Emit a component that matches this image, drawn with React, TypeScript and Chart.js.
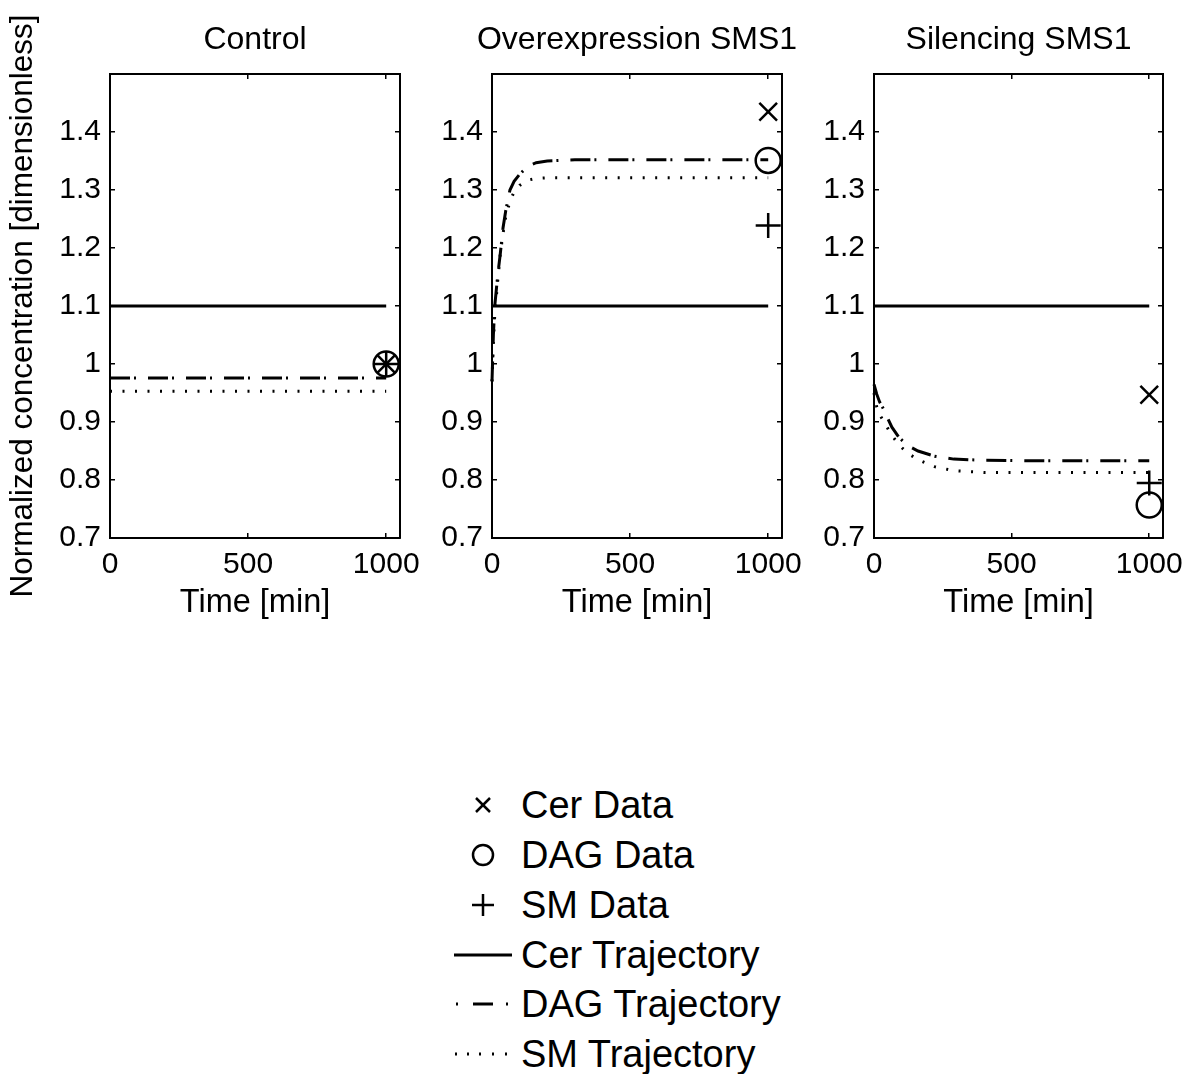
import React, { useEffect, useRef } from 'react';
import { Chart, registerables } from 'chart.js';

Chart.register(...registerables);

// ---------- data ----------
const panelTitles = ['Control', 'Overexpression SMS1', 'Silencing SMS1'];
const xTicks = [0, 500, 1000];
const yTicks = [0.7, 0.8, 0.9, 1.0, 1.1, 1.2, 1.3, 1.4];
const xAxisTitle = 'Time [min]';
const yAxisTitle = 'Normalized concentration [dimensionless]';

// Control
const controlTime = [0, 1000];
const controlCer = [1.1, 1.1];
const controlDag = [0.976, 0.976];
const controlSm = [0.953, 0.953];

// Overexpression SMS1
const overTime = [0, 5, 10, 20, 30, 40, 50, 65, 80, 100, 130, 160, 200, 300, 500, 700, 1000];
const overCer = [1.1, 1.1, 1.1, 1.1, 1.1, 1.1, 1.1, 1.1, 1.1, 1.1, 1.1, 1.1, 1.1, 1.1, 1.1, 1.1, 1.1];
const overDag = [0.97, 1.05, 1.1, 1.15, 1.19, 1.235, 1.265, 1.3, 1.315, 1.327, 1.341, 1.347, 1.35, 1.352, 1.352, 1.352, 1.352];
const overSm = [0.97, 1.04, 1.085, 1.14, 1.19, 1.225, 1.255, 1.28, 1.297, 1.308, 1.317, 1.32, 1.321, 1.321, 1.321, 1.321, 1.321];

// Silencing SMS1
const silTime = [0, 10, 20, 35, 50, 65, 90, 120, 160, 220, 290, 400, 600, 800, 1000];
const silCer = [1.1, 1.1, 1.1, 1.1, 1.1, 1.1, 1.1, 1.1, 1.1, 1.1, 1.1, 1.1, 1.1, 1.1, 1.1];
const silDag = [0.965, 0.948, 0.935, 0.922, 0.906, 0.891, 0.874, 0.86, 0.85, 0.841, 0.836, 0.834, 0.833, 0.833, 0.833];
const silSm = [0.95, 0.926, 0.913, 0.901, 0.889, 0.877, 0.861, 0.847, 0.835, 0.823, 0.816, 0.813, 0.813, 0.813, 0.813];

// Measured data (at t = 1000 min), one value per panel
const dataTime = 1000;
const cerData = [1.0, 1.435, 0.947];
const dagData = [1.0, 1.351, 0.757];
const smData = [1.0, 1.239, 0.795];

const legendLabels = ['Cer Data', 'DAG Data', 'SM Data', 'Cer Trajectory', 'DAG Trajectory', 'SM Trajectory'];

const panelTimes = [controlTime, overTime, silTime];
const panelCer = [controlCer, overCer, silCer];
const panelDag = [controlDag, overDag, silDag];
const panelSm = [controlSm, overSm, silSm];

// ---------- layout / style ----------
const FONT = '"Liberation Sans", Arial, Helvetica, sans-serif';
const BLACK = '#000000';
const PLOT_LEFTS = [110, 492, 874];
const PLOT_WIDTHS = [290, 290, 289];
const PLOT_BOTTOM = 538;
const AXIS_W = 110;
const CANVAS_H = 640;
const LINE_W = 3;
const DAG_DASH = [20, 4, 2, 12];
const SM_DASH = [2, 10.5];

Chart.defaults.font.family = FONT;
Chart.defaults.color = BLACK;

function pts(xs: number[], ys: number[]) {
  return xs.map((x, i) => ({ x, y: ys[i] }));
}

function Panel({ idx }: { idx: number }) {
  const ref = useRef<HTMLCanvasElement | null>(null);
  const width = AXIS_W + PLOT_WIDTHS[idx] + AXIS_W;
  const left = PLOT_LEFTS[idx] - AXIS_W;

  useEffect(() => {
    if (!ref.current) return;
    const grid = {
      drawOnChartArea: false,
      drawTicks: true,
      tickLength: -5,
      color: BLACK,
      lineWidth: 1.5,
    };
    const border = { display: true, color: BLACK, width: 2 };
    const setXTicks = (s: any) => {
      s.ticks = xTicks.map((v) => ({ value: v }));
    };
    const setYTicks = (s: any) => {
      s.ticks = yTicks.map((v) => ({ value: v }));
    };
    const lineDs = (label: string, ys: number[], dash: number[]) => ({
      label,
      data: pts(panelTimes[idx], ys),
      showLine: true,
      borderColor: BLACK,
      backgroundColor: BLACK,
      borderWidth: LINE_W,
      borderDash: dash,
      pointRadius: 0,
      pointHoverRadius: 0,
      fill: false,
      tension: 0,
      clip: false,
    });
    const markDs = (label: string, y: number, style: string) => ({
      label,
      data: [{ x: dataTime, y }],
      showLine: false,
      pointStyle: style,
      pointRadius: 12.5,
      pointHoverRadius: 12.5,
      pointBorderWidth: 2.5,
      pointBorderColor: BLACK,
      pointBackgroundColor: 'rgba(0,0,0,0)',
      borderColor: BLACK,
      backgroundColor: 'rgba(0,0,0,0)',
      clip: false,
    });

    const chart = new Chart(ref.current, {
      type: 'scatter',
      data: {
        datasets: [
          lineDs('Cer Trajectory', panelCer[idx], []),
          lineDs('DAG Trajectory', panelDag[idx], DAG_DASH),
          lineDs('SM Trajectory', panelSm[idx], SM_DASH),
          markDs('Cer Data', cerData[idx], 'crossRot'),
          markDs('DAG Data', dagData[idx], 'circle'),
          markDs('SM Data', smData[idx], 'cross'),
        ] as any,
      },
      options: {
        animation: false,
        responsive: false,
        devicePixelRatio: 1,
        events: [],
        layout: { padding: 0 },
        plugins: {
          legend: { display: false },
          tooltip: { enabled: false },
          title: {
            display: true,
            text: panelTitles[idx],
            fullSize: true,
            color: BLACK,
            font: { size: 32, weight: 'normal', family: FONT },
            padding: { top: 21, bottom: 14.6 },
          },
        },
        scales: {
          x: {
            type: 'linear',
            position: 'bottom',
            min: 0,
            max: 1050,
            afterBuildTicks: setXTicks,
            ticks: {
              font: { size: 30, family: FONT },
              color: BLACK,
              padding: 14,
              maxRotation: 0,
              autoSkip: false,
              callback: (v: any) => String(v),
            },
            grid,
            border,
            title: {
              display: true,
              text: xAxisTitle,
              color: BLACK,
              font: { size: 32.5, family: FONT },
              padding: { top: 0, bottom: 17 },
            },
            afterFit: (s: any) => {
              s.height = CANVAS_H - PLOT_BOTTOM;
              s.paddingLeft = 0;
              s.paddingRight = 0;
            },
          },
          x2: {
            type: 'linear',
            position: 'top',
            min: 0,
            max: 1050,
            afterBuildTicks: setXTicks,
            ticks: { display: false },
            grid,
            border,
            afterFit: (s: any) => {
              s.height = 0;
              s.paddingLeft = 0;
              s.paddingRight = 0;
            },
          },
          y: {
            type: 'linear',
            position: 'left',
            min: 0.7,
            max: 1.5,
            afterBuildTicks: setYTicks,
            ticks: {
              font: { size: 30, family: FONT },
              color: BLACK,
              padding: 14,
              autoSkip: false,
              callback: (v: any) => String(Math.round(Number(v) * 10) / 10),
            },
            grid,
            border,
            title: {
              display: idx === 0,
              text: yAxisTitle,
              color: BLACK,
              font: { size: 31.5, family: FONT },
              padding: { top: 4, bottom: 0 },
            },
            afterFit: (s: any) => {
              s.width = AXIS_W;
              s.paddingTop = 0;
              s.paddingBottom = 0;
            },
          },
          y2: {
            type: 'linear',
            position: 'right',
            min: 0.7,
            max: 1.5,
            afterBuildTicks: setYTicks,
            ticks: { display: false },
            grid,
            border,
            afterFit: (s: any) => {
              s.width = AXIS_W;
              s.paddingTop = 0;
              s.paddingBottom = 0;
            },
          },
        },
      } as any,
    });
    return () => chart.destroy();
  }, [idx]);

  return (
    <canvas
      ref={ref}
      width={width}
      height={CANVAS_H}
      style={{ position: 'absolute', left, top: 0, width, height: CANVAS_H }}
    />
  );
}

const LEGEND_ROWS = [805, 855, 905, 955, 1004, 1054];
const ICON_CX = 483;

function LegendIcon({ i }: { i: number }) {
  const w = 70;
  const h = 40;
  const cx = ICON_CX - 448;
  const cy = 20;
  let content: any = null;
  if (i === 0) {
    content = (
      <g stroke={BLACK} strokeWidth={2.5}>
        <line x1={cx - 7} y1={cy - 7} x2={cx + 7} y2={cy + 7} />
        <line x1={cx - 7} y1={cy + 7} x2={cx + 7} y2={cy - 7} />
      </g>
    );
  } else if (i === 1) {
    content = <circle cx={cx} cy={cy} r={10} stroke={BLACK} strokeWidth={2.5} fill="none" />;
  } else if (i === 2) {
    content = (
      <g stroke={BLACK} strokeWidth={2.5}>
        <line x1={cx - 11} y1={cy} x2={cx + 11} y2={cy} />
        <line x1={cx} y1={cy - 11} x2={cx} y2={cy + 11} />
      </g>
    );
  } else if (i === 3) {
    content = <line x1={6} y1={cy} x2={64} y2={cy} stroke={BLACK} strokeWidth={3} />;
  } else if (i === 4) {
    content = (
      <g stroke={BLACK} strokeWidth={3}>
        <line x1={8} y1={cy} x2={10} y2={cy} />
        <line x1={25} y1={cy} x2={45} y2={cy} />
        <line x1={58} y1={cy} x2={60} y2={cy} />
      </g>
    );
  } else {
    content = (
      <g stroke={BLACK} strokeWidth={3}>
        {[7, 19, 31, 44, 57].map((x) => (
          <line key={x} x1={x} y1={cy} x2={x + 2} y2={cy} />
        ))}
      </g>
    );
  }
  return (
    <svg
      width={w}
      height={h}
      style={{ position: 'absolute', left: 448, top: LEGEND_ROWS[i] - h / 2 }}
    >
      {content}
    </svg>
  );
}

export default function App() {
  return (
    <div
      style={{
        position: 'absolute',
        left: 0,
        top: 0,
        width: 1190,
        height: 1074,
        background: '#ffffff',
        overflow: 'hidden',
        fontFamily: FONT,
      }}
    >
      <Panel idx={0} />
      <Panel idx={1} />
      <Panel idx={2} />
      {legendLabels.map((lab, i) => (
        <React.Fragment key={lab}>
          <LegendIcon i={i} />
          <div
            style={{
              position: 'absolute',
              left: 521,
              top: LEGEND_ROWS[i] - 25,
              height: 50,
              lineHeight: '50px',
              fontSize: 38,
              color: BLACK,
              whiteSpace: 'nowrap',
            }}
          >
            {lab}
          </div>
        </React.Fragment>
      ))}
    </div>
  );
}
